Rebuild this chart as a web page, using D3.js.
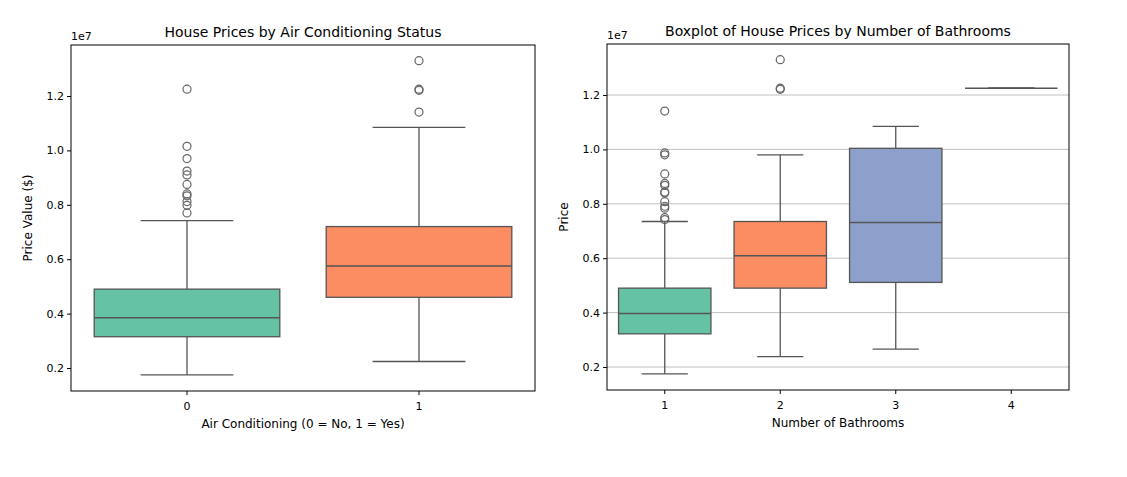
<!DOCTYPE html>
<html>
<head>
<meta charset="utf-8">
<script src="https://cdn.jsdelivr.net/npm/d3@7"></script>
<style>
  body { margin: 0; background: #fff; }
  text { font-family: "DejaVu Sans", sans-serif; fill: #000; }
</style>
</head>
<body>
<svg width="1127" height="477"></svg>
<script>
// values in units of 1e6
const acCategories = ["0", "1"];
const acStats = [
  { lo: 1.75, q1: 3.15, med: 3.85, q3: 4.9, hi: 7.42 },
  { lo: 2.24, q1: 4.6, med: 5.75, q3: 7.2, hi: 10.85 }
];
const acOutliers = [
  [12.25, 10.15, 9.7, 9.24, 9.1, 8.75, 8.4, 8.33, 8.12, 7.98, 7.7],
  [13.3, 12.25, 12.21, 11.41]
];
const bathCategories = ["1", "2", "3", "4"];
const bathStats = [
  { lo: 1.75, q1: 3.22, med: 3.97, q3: 4.9, hi: 7.35 },
  { lo: 2.38, q1: 4.9, med: 6.09, q3: 7.35, hi: 9.8 },
  { lo: 2.66, q1: 5.11, med: 7.31, q3: 10.04, hi: 10.85 },
  { lo: 12.25, q1: 12.25, med: 12.25, q3: 12.25, hi: 12.25 }
];
const bathOutliers = [
  [11.41, 9.87, 9.8, 9.1, 8.75, 8.68, 8.43, 8.4, 8.08, 7.91, 7.84, 7.49, 7.42],
  [13.3, 12.25, 12.21],
  [],
  []
];
const yTicks = [2, 4, 6, 8, 10, 12];
const palette = ["#66c2a5", "#fc8d62", "#8da0cb", "#e78ac3"];

const svg = d3.select("svg");

function drawBox(cfg) {
  const g = svg.append("g");
  const x = d3.scaleBand().domain(cfg.cats).range([cfg.x0, cfg.x1]);
  const y = d3.scaleLinear().domain([1.155, 13.875]).range([cfg.y1, cfg.y0]);

  if (cfg.grid) {
    g.selectAll(".grid").data(yTicks).enter().append("line")
      .attr("x1", cfg.x0).attr("x2", cfg.x1)
      .attr("y1", d => y(d)).attr("y2", d => y(d))
      .attr("stroke", "#b0b0b0").attr("stroke-width", 0.8);
  }

  const gray = "#555";
  cfg.stats.forEach((s, i) => {
    const c = x(cfg.cats[i]) + x.bandwidth() / 2;
    const bw = x.bandwidth() * 0.8;
    const cw = bw / 2;
    g.append("line").attr("x1", c).attr("x2", c).attr("y1", y(s.q3)).attr("y2", y(s.hi))
      .attr("stroke", gray).attr("stroke-width", 1.3);
    g.append("line").attr("x1", c).attr("x2", c).attr("y1", y(s.q1)).attr("y2", y(s.lo))
      .attr("stroke", gray).attr("stroke-width", 1.3);
    g.append("line").attr("x1", c - cw / 2).attr("x2", c + cw / 2).attr("y1", y(s.hi)).attr("y2", y(s.hi))
      .attr("stroke", gray).attr("stroke-width", 1.3);
    g.append("line").attr("x1", c - cw / 2).attr("x2", c + cw / 2).attr("y1", y(s.lo)).attr("y2", y(s.lo))
      .attr("stroke", gray).attr("stroke-width", 1.3);
    g.append("rect").attr("x", c - bw / 2).attr("width", bw)
      .attr("y", y(s.q3)).attr("height", Math.max(0, y(s.q1) - y(s.q3)))
      .attr("fill", palette[i]).attr("stroke", gray).attr("stroke-width", 1.3);
    g.append("line").attr("x1", c - bw / 2).attr("x2", c + bw / 2).attr("y1", y(s.med)).attr("y2", y(s.med))
      .attr("stroke", gray).attr("stroke-width", 1.5);
    g.selectAll(null).data(cfg.outliers[i]).enter().append("circle")
      .attr("cx", c).attr("cy", d => y(d)).attr("r", 4)
      .attr("fill", "none").attr("stroke", "#666").attr("stroke-width", 1.2);
  });

  g.append("rect").attr("x", cfg.x0).attr("y", cfg.y0)
    .attr("width", cfg.x1 - cfg.x0).attr("height", cfg.y1 - cfg.y0)
    .attr("fill", "none").attr("stroke", "#000").attr("stroke-width", 1);

  const xa = g.append("g").attr("transform", `translate(0,${cfg.y1})`)
    .call(d3.axisBottom(x).tickSizeOuter(0).tickSize(4));
  const ya = g.append("g").attr("transform", `translate(${cfg.x0},0)`)
    .call(d3.axisLeft(y).tickValues(yTicks).tickFormat(d => (d / 10).toFixed(1)).tickSize(4).tickSizeOuter(0));
  [xa, ya].forEach(a => {
    a.select(".domain").remove();
    a.selectAll("text").attr("font-size", 11).style("font-family", "DejaVu Sans");
  });
  xa.selectAll("text").attr("dy", "1.1em");

  g.append("text").attr("x", cfg.x0).attr("y", cfg.y0 - 5).attr("font-size", 11).text("1e7");
  g.append("text").attr("x", (cfg.x0 + cfg.x1) / 2).attr("y", cfg.y0 - 8)
    .attr("text-anchor", "middle").attr("font-size", 14).text(cfg.title);
  g.append("text").attr("x", (cfg.x0 + cfg.x1) / 2).attr("y", cfg.y1 + 37)
    .attr("text-anchor", "middle").attr("font-size", 12).text(cfg.xlabel);
  g.append("text").attr("transform", `translate(${cfg.x0 - 39},${(cfg.y0 + cfg.y1) / 2}) rotate(-90)`)
    .attr("text-anchor", "middle").attr("font-size", 12).text(cfg.ylabel);
}

drawBox({ cats: acCategories, stats: acStats, outliers: acOutliers,
  x0: 71, x1: 535, y0: 45, y1: 391, grid: false,
  title: "House Prices by Air Conditioning Status",
  xlabel: "Air Conditioning (0 = No, 1 = Yes)", ylabel: "Price Value ($)" });

drawBox({ cats: bathCategories, stats: bathStats, outliers: bathOutliers,
  x0: 607, x1: 1069, y0: 44, y1: 390, grid: true,
  title: "Boxplot of House Prices by Number of Bathrooms",
  xlabel: "Number of Bathrooms", ylabel: "Price" });
</script>
</body>
</html>
